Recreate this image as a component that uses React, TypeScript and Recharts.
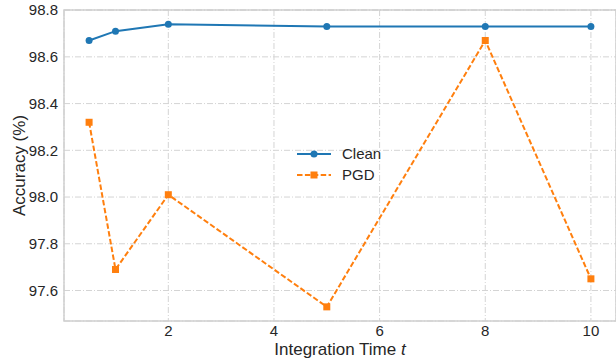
import React from "react";
import { LineChart, Line, XAxis, YAxis, CartesianGrid, Legend, ReferenceArea } from "recharts";

const times = [0.5, 1, 2, 5, 8, 10];
const clean = [98.67, 98.71, 98.74, 98.73, 98.73, 98.73];
const pgd = [98.32, 97.69, 98.01, 97.53, 98.67, 97.65];
const xTicks = [2, 4, 6, 8, 10];
const yTicks = [97.6, 97.8, 98.0, 98.2, 98.4, 98.6, 98.8];

const data = times.map((t, i) => ({ t, clean: clean[i], pgd: pgd[i] }));

const FONT = "Liberation Sans, Arial, sans-serif";
const TEXT = "#262626";
const BLUE = "#1f77b4";
const ORANGE = "#ff7f0e";
const X_DOMAIN: [number, number] = [0.025, 10.475];
const Y_DOMAIN: [number, number] = [97.4695, 98.8005];

const Square = (props: any) => {
  const { cx, cy } = props;
  if (cx == null || cy == null) return null;
  return <rect x={cx - 3.5} y={cy - 3.5} width={7} height={7} fill={ORANGE} />;
};

// x label with the italic t, like mathtext
const XLabel = (props: any) => {
  const vb = props.viewBox || {};
  const cx = vb.x + vb.width / 2;
  return (
    <text x={cx} y={vb.y + vb.height - 6} textAnchor="middle" fill={TEXT} fontSize={17} fontFamily={FONT}>
      Integration Time <tspan fontStyle="italic">t</tspan>
    </text>
  );
};

function LegendBox() {
  const rows = [
    { name: "Clean", color: BLUE, dash: undefined, square: false },
    { name: "PGD", color: ORANGE, dash: "5.5 2.4", square: true },
  ];
  return (
    <div style={{ fontFamily: FONT, fontSize: 15, color: TEXT }}>
      {rows.map((r) => (
        <div key={r.name} style={{ display: "flex", alignItems: "center", height: 21 }}>
          <svg width={34} height={10} style={{ marginRight: 11 }}>
            <line x1={0} y1={5} x2={34} y2={5} stroke={r.color} strokeWidth={2} strokeDasharray={r.dash} />
            {r.square ? (
              <rect x={13.5} y={1.5} width={7} height={7} fill={r.color} />
            ) : (
              <circle cx={17} cy={5} r={3.5} fill={r.color} />
            )}
          </svg>
          <span>{r.name}</span>
        </div>
      ))}
    </div>
  );
}

export default function App() {
  return (
    <div style={{ position: "fixed", left: 0, top: 0, width: 616, height: 361, background: "#fff" }}>
      <LineChart width={616} height={361} data={data} margin={{ top: 10, right: 0, left: 0, bottom: 0 }}>
        <CartesianGrid stroke="#d4d4d4" strokeDasharray="6 2 1 2" strokeWidth={1} />
        <XAxis
          dataKey="t"
          type="number"
          domain={X_DOMAIN}
          ticks={xTicks}
          allowDataOverflow
          height={40}
          tickLine={false}
          axisLine={false}
          tickSize={0}
          tickMargin={4}
          tick={{ fill: TEXT, fontSize: 15, fontFamily: FONT }}
          label={<XLabel />}
        />
        <YAxis
          type="number"
          domain={Y_DOMAIN}
          ticks={yTicks}
          allowDataOverflow
          width={64}
          tickLine={false}
          axisLine={false}
          tickSize={0}
          tickMargin={6}
          tickFormatter={(v: number) => v.toFixed(1)}
          tick={{ fill: TEXT, fontSize: 15, fontFamily: FONT }}
          label={{
            value: "Accuracy (%)",
            angle: -90,
            position: "insideLeft",
            offset: 19,
            style: { textAnchor: "middle" },
            fill: TEXT,
            fontSize: 17,
            fontFamily: FONT,
          }}
        />
        <ReferenceArea
          x1={X_DOMAIN[0]}
          x2={X_DOMAIN[1]}
          y1={Y_DOMAIN[0]}
          y2={Y_DOMAIN[1]}
          fill="none"
          stroke="#d0d0d0"
          strokeWidth={1.5}
        />
        <Legend
          layout="horizontal"
          verticalAlign="middle"
          align="center"
          content={() => <LegendBox />}
          wrapperStyle={{ position: "absolute", left: 297, top: 143, width: "auto", height: "auto" }}
        />
        <Line
          dataKey="clean"
          stroke={BLUE}
          strokeWidth={2}
          dot={{ r: 3.5, fill: BLUE, stroke: BLUE, strokeWidth: 0 }}
          isAnimationActive={false}
        />
        <Line
          dataKey="pgd"
          stroke={ORANGE}
          strokeWidth={2}
          strokeDasharray="5.5 2.4"
          dot={<Square />}
          isAnimationActive={false}
        />
      </LineChart>
    </div>
  );
}
